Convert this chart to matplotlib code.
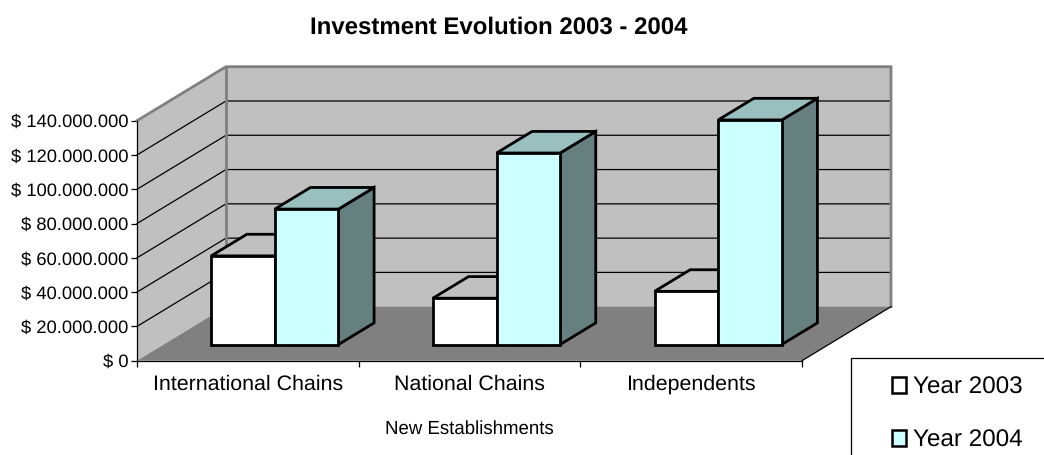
import matplotlib
matplotlib.use('Agg')
import matplotlib.pyplot as plt
from matplotlib.patches import Patch, Polygon, Rectangle
from matplotlib.ticker import FuncFormatter

categories = ['International Chains', 'National Chains', 'Independents']
year_2003 = [51700000, 27000000, 31000000]
year_2004 = [79000000, 111700000, 131000000]
series_names = ['Year 2003', 'Year 2004']
y_ticks = [0, 20000000, 40000000, 60000000, 80000000, 100000000, 120000000, 140000000]

# how far the back wall sits from the front plane, in data units
DEPTH_X = 0.4015
DEPTH_Y = 31500000
Y_MAX = 140000000
BAR_WIDTH = 0.287

plt.rcParams['font.family'] = ['Liberation Sans', 'DejaVu Sans']
plt.rcParams['text.hinting'] = 'none'


def project(x, y, depth):
    return (x + depth * DEPTH_X, y + depth * DEPTH_Y)


def shade(ax, points, color, edge='none', lw=0, zorder=1):
    ax.add_patch(Polygon(points, closed=True, facecolor=color, edgecolor=edge,
                         linewidth=lw, clip_on=False, zorder=zorder,
                         joinstyle='miter'))


def draw_bar(ax, x, value, front_color, top_color, side_color, zorder):
    x0, x1 = x, x + BAR_WIDTH
    d0, d1 = 0.3, 0.7
    front = [project(x0, 0, d0), project(x1, 0, d0),
             project(x1, value, d0), project(x0, value, d0)]
    top = [project(x0, value, d0), project(x1, value, d0),
           project(x1, value, d1), project(x0, value, d1)]
    side = [project(x1, 0, d0), project(x1, 0, d1),
            project(x1, value, d1), project(x1, value, d0)]
    shade(ax, side, side_color, 'black', 2.0, zorder)
    shade(ax, top, top_color, 'black', 2.0, zorder)
    shade(ax, front, front_color, 'black', 2.0, zorder)


fig = plt.figure(figsize=(10.44, 4.55), dpi=100)
ax = fig.add_axes([137 / 1044, (455 - 360.7) / 455, 665 / 1044, 240 / 455])
ax.set_xlim(0, 3)
ax.set_ylim(0, Y_MAX)
ax.patch.set_visible(False)

# walls and floor
shade(ax, [project(0, 0, 1), project(3, 0, 1), project(3, Y_MAX, 1), project(0, Y_MAX, 1)], '#c0c0c0')
shade(ax, [project(0, 0, 0), project(0, 0, 1), project(0, Y_MAX, 1), project(0, Y_MAX, 0)], '#c0c0c0')
shade(ax, [project(0, 0, 0), project(3, 0, 0), project(3, 0, 1), project(0, 0, 1)], '#808080')

# gridlines run along the side wall, then across the back wall
for tick in y_ticks[1:-1]:
    xs, ys = zip(project(0, tick, 0), project(0, tick, 1), project(3, tick, 1))
    ax.plot(xs, ys, color='black', lw=0.9, clip_on=False, zorder=2)

# grey outline of the walls
xs, ys = zip(project(0, Y_MAX, 0), project(0, Y_MAX, 1), project(3, Y_MAX, 1), project(3, 0, 1))
ax.plot(xs, ys, color='#808080', lw=2.0, clip_on=False, zorder=3, solid_joinstyle='miter')
xs, ys = zip(project(0, 0, 1), project(0, Y_MAX, 1))
ax.plot(xs, ys, color='#808080', lw=2.0, clip_on=False, zorder=3)
xs, ys = zip(project(3, 0, 0), project(3, 0, 1))
ax.plot(xs, ys, color='black', lw=0.9, clip_on=False, zorder=3)

for i in range(len(categories)):
    start = i + 0.2145
    draw_bar(ax, start, year_2003[i], '#ffffff', '#c0c0c0', '#808080', 4)
    draw_bar(ax, start + BAR_WIDTH, year_2004[i], '#ccffff', '#99bfbf', '#668080', 5)

for side in ['top', 'right']:
    ax.spines[side].set_visible(False)
for side in ['left', 'bottom']:
    ax.spines[side].set_linewidth(0.9)
    ax.spines[side].set_zorder(6)

ax.set_yticks(y_ticks)
ax.yaxis.set_major_formatter(FuncFormatter(lambda v, pos: '$ ' + f'{int(v):,}'.replace(',', '.')))
ax.set_xticks([0, 1, 2, 3])
ax.set_xticklabels([])
ax.set_xticks([0.5, 1.5, 2.5], categories, minor=True)
ax.tick_params(axis='x', which='minor', length=0, labelsize=15.4, pad=10)
ax.tick_params(axis='x', which='major', length=4, width=0.9)
ax.tick_params(axis='y', length=4, width=0.9, labelsize=13.2, pad=2, colors='black')

ax.set_xlabel('New Establishments', fontsize=13.4, labelpad=18.5)
fig.suptitle('Investment Evolution 2003 - 2004', x=499 / 1044, y=1 - 27.5 / 455,
             va='center', ha='center', fontsize=17.3, fontweight='bold')

# legend box runs off the right and bottom of the picture
fig.add_artist(Rectangle((851 / 1044, -0.05), 0.2, 0.05 + (455 - 358) / 455,
                         transform=fig.transFigure, facecolor='white',
                         edgecolor='black', linewidth=0.9))
handles = [Patch(facecolor='#ffffff', edgecolor='black', linewidth=1.8),
           Patch(facecolor='#ccffff', edgecolor='black', linewidth=1.8)]
legend = fig.legend(handles, series_names, loc='upper left',
                    bbox_to_anchor=(891.5 / 1044, 1 - 376 / 455), frameon=False,
                    fontsize=17.5, handlelength=0.6, handleheight=0.6,
                    handletextpad=0.27, labelspacing=1.27, borderpad=0, borderaxespad=0)

fig.savefig('out.png', dpi=100)
plt.close(fig)
